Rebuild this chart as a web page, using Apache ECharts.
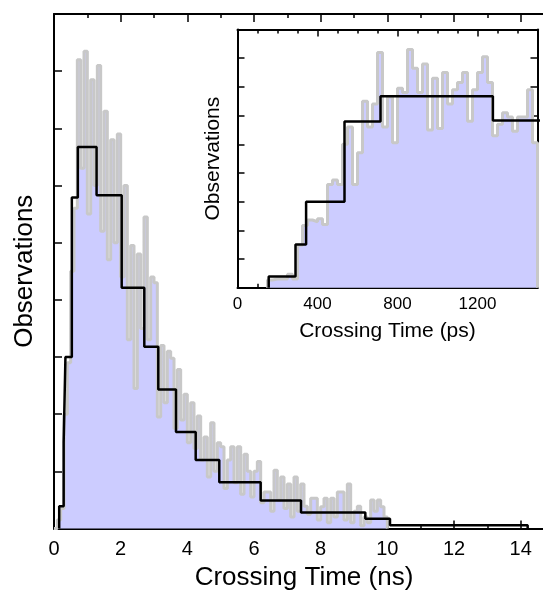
<!DOCTYPE html>
<html><head><meta charset="utf-8">
<script src="https://cdn.jsdelivr.net/npm/echarts@6/dist/echarts.min.js"></script>
<style>html,body{margin:0;padding:0;background:#fff}#c{width:543px;height:591px}</style>
</head><body><div id="c"></div>
<script>
// ---- fine histogram, main panel (bins of 0.1 ns from 0 ns), heights in axis units
const mainBinStart = 0;
const mainBinWidth = 0.1;
const mainFineCounts = [
  0, 0.15, 0.35, 2.0, 2.9, 4.5, 5.6, 8.2, 6.3, 8.35,
  5.5, 7.85, 6.0, 8.1, 5.2, 7.3, 4.7, 6.8, 5.0, 6.9,
  4.4, 6.0, 3.3, 4.95, 2.45, 4.8, 3.5, 5.45, 3.3, 4.4,
  4.3, 1.95, 3.2, 2.2, 3.1, 2.98, 1.75, 2.78, 1.9, 2.35,
  1.5, 2.2, 1.4, 1.97, 1.2, 1.6, 0.9, 1.85, 1.0, 1.5,
  1.43, 0.7, 1.2, 1.43, 0.8, 1.43, 0.6, 1.3, 1.0, 0.55,
  1.0, 1.17, 0.45, 0.64, 0.64, 0.3, 1.02, 0.5, 0.9, 0.35,
  0.78, 0.2, 0.9, 0.3, 0.78, 0.39, 0.25, 0.53, 0.53, 0.15,
  0.38, 0.53, 0.1, 0.53, 0.2, 0.64, 0.64, 0.15, 0.78, 0.1,
  0.3, 0.39, 0.05, 0.2, 0.1, 0.5, 0.3, 0.5, 0.38, 0.2
];
// ---- fine histogram, inset (bins of 25 ps from 150 ps)
const insetBinStart = 150;
const insetBinWidth = 25;
const insetFineCounts = [
  0.27, 0.3, 0.3, 0.3, 0.47, 0.3, 1.48, 2.17, 2.36, 2.3,
  2.4, 2.2, 3.6, 3.75, 3.6, 5.0, 5.6, 3.6, 4.7, 6.5,
  5.6, 6.4, 8.2, 5.6, 6.65, 5.05, 6.95, 6.8, 8.3, 7.65,
  6.8, 7.8, 5.5, 7.3, 5.55, 7.5, 6.4, 6.9, 7.15, 7.5,
  5.8, 6.9, 7.5, 8.05, 7.15, 5.3, 5.7, 6.1, 5.95, 5.45,
  5.95, 5.95, 6.9, 5.05
];
// ---- Bayesian-block histogram (edges in ns)
const blockEdges = [0.156, 0.290, 0.343, 0.535, 0.715, 1.277, 2.031, 2.709, 3.129, 3.66, 4.251, 4.959, 6.20, 7.41, 9.34, 10.08, 14.21];
const blockHeights = [0.39, 1.51, 3.0, 5.79, 6.675, 5.83, 4.21, 3.18, 2.43, 1.69, 1.20, 0.81, 0.49, 0.28, 0.17, 0.058];
// ---- axes
const mainXRange = [0, 15];
const insetXRange = [0, 1500];
const yRange = [0, 9];

function stepData(edges, heights) {
  const d = [[edges[0], 0]];
  for (let i = 0; i < heights.length; i++) d.push([edges[i], heights[i]]);
  d.push([edges[edges.length - 1], 0]);
  return d;
}
function fineEdges(start, w, n) {
  const e = [];
  for (let i = 0; i <= n; i++) e.push(+(start + i * w).toFixed(6));
  return e;
}
const FONT = 'Liberation Sans, Arial, sans-serif';
function xAx(grid, pos, range, interval, len, opts) {
  opts = opts || {};
  return Object.assign({
    type: 'value', gridIndex: grid, position: pos, min: range[0], max: range[1], interval: interval,
    axisLine: { show: !!opts.line, onZero: false, lineStyle: { color: '#000', width: 2 } },
    axisTick: { show: true, inside: true, length: len, lineStyle: { color: '#000', width: 1.5 } },
    axisLabel: { show: !!opts.label, showMaxLabel: false, color: '#000', fontSize: opts.labelSize || 18,
      fontFamily: FONT, margin: opts.margin || 8, formatter: v => String(v) },
    splitLine: { show: false }
  }, opts.extra || {});
}
function yAx(grid, pos, len, line, extra) {
  return Object.assign({
    type: 'value', gridIndex: grid, position: pos, min: yRange[0], max: yRange[1], interval: 1,
    axisLine: { show: line, onZero: false, lineStyle: { color: '#000', width: 2 } },
    axisTick: { show: true, inside: true, length: len, lineStyle: { color: '#000', width: 1.5 } },
    axisLabel: { show: false },
    splitLine: { show: false }
  }, extra || {});
}

const chart = echarts.init(document.getElementById('c'), null, { renderer: 'canvas' });
const mainEdgesNs = blockEdges;
const insetEdgesPs = blockEdges.map(v => +(v * 1000).toFixed(3));

chart.setOption({
  animation: false,
  backgroundColor: '#fff',
  grid: [
    { left: 54, top: 14, width: 500, height: 514.5, show: false, outerBoundsMode: 'none', containLabel: false },
    { left: 237.5, top: 29.5, width: 300, height: 258.2, show: true, backgroundColor: '#fff', borderWidth: 0,
      outerBoundsMode: 'none', containLabel: false }
  ],
  xAxis: [
    xAx(0, 'bottom', mainXRange, 2, 8, { line: true, label: true, labelSize: 20, margin: 11, extra: {
      name: 'Crossing Time (ns)', nameLocation: 'middle', nameGap: 36,
      nameTextStyle: { fontSize: 26, fontFamily: FONT, color: '#000' } } }),
    xAx(0, 'bottom', mainXRange, 1, 4, {}),
    xAx(0, 'top', mainXRange, 2, 8, { line: true }),
    xAx(0, 'top', mainXRange, 1, 4, {}),
    xAx(1, 'bottom', insetXRange, 400, 7, { line: true, label: true, labelSize: 17, margin: 8, extra: {
      name: 'Crossing Time (ps)', nameLocation: 'middle', nameGap: 33,
      nameTextStyle: { fontSize: 21, fontFamily: FONT, color: '#000' } } }),
    xAx(1, 'bottom', insetXRange, 100, 4, {}),
    xAx(1, 'top', insetXRange, 400, 7, { line: true }),
    xAx(1, 'top', insetXRange, 100, 4, {})
  ],
  yAxis: [
    yAx(0, 'left', 8, true, { name: 'Observations', nameLocation: 'middle', nameGap: 16,
      nameTextStyle: { fontSize: 26, fontFamily: FONT, color: '#000' } }),
    yAx(1, 'left', 7, true, { name: 'Observations', nameLocation: 'middle', nameGap: 14,
      nameTextStyle: { fontSize: 21, fontFamily: FONT, color: '#000' } }),
    yAx(1, 'right', 7, true)
  ],
  series: [
    { type: 'line', xAxisIndex: 0, yAxisIndex: 0, step: 'end', symbol: 'none', clip: true,
      data: stepData(fineEdges(mainBinStart, mainBinWidth, mainFineCounts.length), mainFineCounts),
      lineStyle: { color: '#c8c8c8', width: 3 }, areaStyle: { color: '#ccccff', opacity: 1, origin: 'start' } },
    { type: 'line', xAxisIndex: 0, yAxisIndex: 0, step: 'end', symbol: 'none', clip: true,
      data: stepData(mainEdgesNs, blockHeights), lineStyle: { color: '#000', width: 2.5 } },
    { type: 'line', xAxisIndex: 4, yAxisIndex: 1, step: 'end', symbol: 'none', clip: true,
      data: stepData(fineEdges(insetBinStart, insetBinWidth, insetFineCounts.length), insetFineCounts),
      lineStyle: { color: '#c8c8c8', width: 3 }, areaStyle: { color: '#ccccff', opacity: 1, origin: 'start' } },
    { type: 'line', xAxisIndex: 4, yAxisIndex: 1, step: 'end', symbol: 'none', clip: true,
      data: stepData(insetEdgesPs, blockHeights), lineStyle: { color: '#000', width: 2.5 } }
  ]
});
</script>
</body></html>
